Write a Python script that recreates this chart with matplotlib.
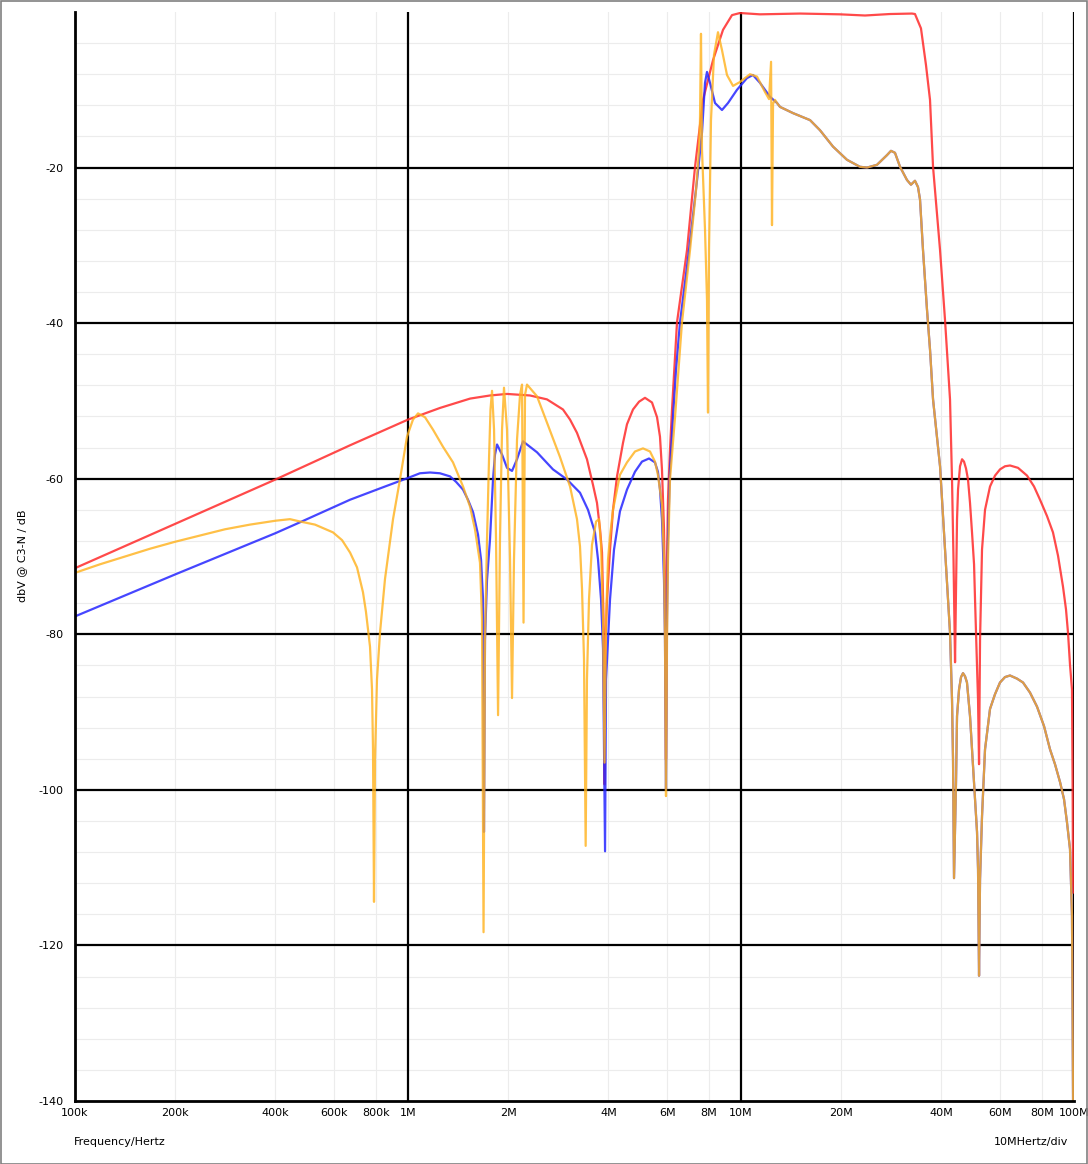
import numpy as np
import matplotlib
matplotlib.use("Agg")
import matplotlib.pyplot as plt
from matplotlib.patches import Rectangle

# ---------------- data (frequency in MHz, level in dB) ----------------
red_f = [0.1, 0.2, 0.4, 0.670, 1.0, 1.248, 1.536, 1.763, 1.983, 2.325, 2.614, 2.920, 3.066, 3.217,
         3.447, 3.594, 3.694, 3.773, 3.825, 3.865, 3.892, 3.919, 3.960, 4.043, 4.127, 4.243,
         4.422, 4.546, 4.739, 4.941, 5.148, 5.404, 5.596, 5.711, 5.790, 5.872, 5.912, 5.953, 5.995,
         6.036, 6.120, 6.206, 6.424, 6.885, 7.277, 7.689, 8.240, 8.829, 9.397, 9.93, 11.40,
         15.04, 19.83, 23.57, 28.02, 32.62, 33.30, 34.71, 35.93, 36.95, 37.73, 39.60, 40.99,
         42.43, 43.02, 43.47, 43.93, 44.23, 44.54, 44.85, 45.47, 46.11, 46.74, 47.40, 48.05,
         48.72, 49.40, 50.10, 50.44, 51.14, 51.50, 51.86, 52.22, 52.94, 54.05, 55.95, 57.92,
         59.95, 62.06, 64.25, 67.9, 72.27, 75.85, 79.06, 82.97, 86.47, 89.54, 92.69, 94.62,
         95.94, 97.27, 98.62, 99.1, 99.31]
red_db = [-71.5, -65.8, -60.1, -55.7, -52.4, -50.9, -49.7, -49.3, -49.1, -49.3, -49.8, -51.1, -52.4, -54.1,
          -57.5, -60.8, -63.1, -66.5, -69.5, -78.1, -99.3, -80.7, -75.5, -69.1, -64.0, -59.7,
          -55.4, -53.0, -51.1, -50.1, -49.6, -50.2, -52.1, -54.6, -58.8, -66.5, -74.2, -96.1, -70.4,
          -62.7, -56.3, -51.1, -39.9, -30.6, -19.9, -11.3, -6.2, -2.3, -0.4, -0.13, -0.3,
          -0.2, -0.3, -0.45, -0.26, -0.2, -0.26, -2.1, -6.8, -11.3, -19.9, -30.6, -39.6,
          -49.8, -60.1, -70.4, -83.6, -74.2, -65.2, -61.4, -58.4, -57.5, -57.8, -58.7, -60.1,
          -63.1, -66.9, -71.0, -75.5, -84.1, -88.4, -96.7, -80.7, -69.1, -64.0, -61.0, -59.6,
          -58.8, -58.4, -58.3, -58.6, -59.6, -61.0, -62.7, -64.8, -66.9, -69.9, -73.9, -76.8,
          -79.8, -83.9, -87.1, -101.2, -113.2]

blue_f = [0.1, 0.2, 0.4, 0.474, 0.670, 0.8412, 1.0, 1.086, 1.165, 1.247, 1.337, 1.394, 1.463,
          1.514, 1.568, 1.623, 1.657,
          1.680, 1.691, 1.703, 1.727, 1.763, 1.800, 1.825, 1.851, 1.916, 1.983, 2.053, 2.125,
          2.215, 2.440, 2.725, 3.002, 3.285, 3.472, 3.643, 3.721, 3.799, 3.852, 3.906, 3.933,
          3.987, 4.043, 4.156, 4.33, 4.546, 4.805, 5.043, 5.293, 5.516, 5.63, 5.711, 5.790,
          5.872, 5.912, 5.953, 5.995, 6.036, 6.120, 6.249, 6.380, 6.558, 6.981, 7.38, 7.636,
          7.797, 7.905, 8.07, 8.355, 8.768, 9.141, 9.727, 10.42, 10.86, 11.40, 12.22]
blue_db = [-77.7, -72.3, -67.0, -65.6, -62.7, -61.1, -59.9, -59.3, -59.2, -59.3, -59.7, -60.4, -61.4,
           -62.7, -64.3, -67.2, -70.4,
           -75.5, -105.4, -80.7, -73.0, -67.8, -60.1, -56.9, -55.6, -56.9, -58.6, -59.0, -57.5,
           -55.2, -56.6, -58.8, -60.1, -61.8, -64.0, -66.9, -70.4, -75.5, -81.9, -107.9, -85.8,
           -80.7, -75.5, -69.1, -64.2, -61.4, -59.1, -57.8, -57.4, -57.9, -59.1, -61.4, -65.2,
           -73.0, -80.7, -99.9, -78.1, -67.8, -58.8, -52.0, -46.0, -39.9, -30.6, -21.6, -15.5,
           -9.1, -7.7, -9.1, -11.7, -12.6, -11.7, -10.0, -8.5, -8.1, -9.1, -10.9]

orange_f = [0.1, 0.1189, 0.1413, 0.1680, 0.2, 0.2373, 0.2822, 0.3354, 0.4, 0.4422, 0.474,
            0.5256, 0.5954, 0.6339, 0.670, 0.7029, 0.7325, 0.7477, 0.769, 0.7797, 0.7851,
            0.7905, 0.7960, 0.8070,
            0.824, 0.8529, 0.9016, 0.946, 0.9931, 1.035, 1.072, 1.125, 1.189, 1.274, 1.365,
            1.463, 1.536, 1.589, 1.645, 1.668, 1.686, 1.703, 1.727, 1.751, 1.769, 1.788,
            1.813, 1.838, 1.864, 1.889, 1.916, 1.942, 1.983, 2.025, 2.053, 2.081, 2.125,
            2.170, 2.200, 2.223, 2.246, 2.277, 2.440, 2.614, 2.860, 3.066, 3.217, 3.285,
            3.331, 3.377, 3.416, 3.447, 3.496, 3.569, 3.672, 3.747, 3.799, 3.852, 3.892,
            3.933, 3.987, 4.043, 4.127, 4.243, 4.33, 4.546, 4.805, 5.078, 5.330, 5.516,
            5.63, 5.790, 5.872, 5.912, 5.953, 5.995, 6.036, 6.120, 6.339, 6.649, 7.03,
            7.328, 7.481, 7.531, 7.583, 7.636, 7.797, 7.905, 7.960, 8.015, 8.126, 8.297,
            8.529, 8.768, 9.077, 9.463, 9.93, 10.64, 11.17, 11.81, 12.14, 12.31, 12.39,
            12.48, 12.65]
orange_db = [-72.1, -71.0, -70.0, -69.0, -68.1, -67.3, -66.5, -65.9, -65.4, -65.2, -65.5,
             -65.9, -66.9, -67.9, -69.5, -71.4, -74.6, -77.1, -81.6, -87.1, -94.8,
             -114.4, -96.1, -85.8,
             -79.8, -72.9, -65.2, -60.1, -54.6, -52.4, -51.6, -52.1, -53.7, -55.9, -57.9,
             -61.0, -63.6, -66.5, -70.8, -78.1, -118.3, -80.7, -67.8, -57.5, -51.1, -48.7,
             -53.7, -67.8, -90.4, -67.8, -53.7, -48.3, -53.7, -70.4, -88.2, -70.4, -55.0,
             -49.2, -47.9, -78.5, -49.2, -47.9, -49.4, -52.8, -57.2, -61.0, -65.2, -68.7,
             -74.2, -83.2, -107.2, -85.8, -75.5, -68.5, -65.5, -65.2, -68.5, -78.1, -96.5,
             -78.1, -70.4, -67.4, -64.0, -61.4, -59.5, -57.9, -56.5, -56.1, -56.5, -57.8,
             -59.5, -63.3, -70.4, -80.7, -100.8, -80.7, -70.4, -60.1, -52.0, -39.9, -30.6,
             -22.9, -17.7, -13.9, -2.8, -17.7, -28.0, -37.0, -51.5, -30.6, -13.9, -5.5,
             -2.6, -4.9, -8.1, -9.5, -9.0, -8.0, -8.3, -10.3, -11.2, -6.4, -27.4,
             -11.8, -11.3]

# part shared by the blue and the orange trace above ~12.8 MHz
common_f = [12.83, 13.10, 14.33, 16.12, 17.27, 18.89, 20.81, 22.76, 23.90, 25.60, 27.44,
            28.21, 29.0, 30.03, 31.51, 32.39, 33.30, 34.0, 34.48, 35.20, 36.19, 36.95, 37.73,
            39.60, 40.99, 42.43, 43.02, 43.32, 43.62, 43.93, 44.23, 44.54, 45.16, 45.79,
            46.42, 47.07, 47.71, 48.72, 49.74, 50.44, 51.14, 51.50, 51.86, 52.22, 52.58,
            52.94, 54.05, 55.95, 57.92, 59.95, 62.06, 64.25, 67.43, 70.29, 73.78, 77.43,
            81.27, 84.73, 87.68, 90.80, 93.33, 95.28, 97.27, 98.62, 99.31, 99.5]
common_db = [-11.7, -12.2, -13.0, -13.9, -15.2, -17.3, -19.0, -19.9, -20.0, -19.65, -18.4,
             -17.85, -18.1, -19.9, -21.6, -22.2, -21.7, -22.5, -24.1, -30.6, -38.3, -43.4, -49.8,
             -58.4, -69.1, -79.8, -88.4, -96.1, -111.35, -105.1, -99.0, -90.5, -87.1, -85.5,
             -85.0, -85.4, -86.2, -90.5, -97.0, -101.2, -105.4, -110.2, -123.9, -111.5, -107.6,
             -103.4, -94.8, -89.6, -87.7, -86.2, -85.5, -85.3, -85.7, -86.2, -87.5, -89.3,
             -91.8, -94.8, -96.7, -99.0, -101.2, -104.2, -107.6, -116.2, -140.0, -145.0]

x_ticks = [0.1, 0.2, 0.4, 0.6, 0.8, 1, 2, 4, 6, 8, 10, 20, 40, 60, 80, 100]
x_labels = ["100k", "200k", "400k", "600k", "800k", "1M", "2M", "4M", "6M", "8M",
            "10M", "20M", "40M", "60M", "80M", "100M"]
y_ticks = [-140, -120, -100, -80, -60, -40, -20]

# ---------------- figure ----------------
W, H = 1088, 1164
fig = plt.figure(figsize=(W / 100, H / 100), dpi=100)
ax = fig.add_axes([75 / W, 1 - 1101 / H, (1074 - 75) / W, (1101 - 12) / H])

ax.set_xscale("log")
ax.set_xlim(0.1, 100)
ax.set_ylim(-140, 0)

# grid
for d in [0.1, 1, 10]:
    for m in [2, 4, 6, 8]:
        ax.axvline(d * m, color="#ececec", lw=0.8, zorder=0)
for v in np.arange(-136, 0, 4):
    if v % 20 != 0:
        ax.axhline(v, color="#ececec", lw=0.8, zorder=0)
for v in [1, 10, 100]:
    ax.axvline(v, color="black", lw=1.6, zorder=1)
for v in y_ticks[1:]:
    ax.axhline(v, color="black", lw=1.6, zorder=1)

lw = 1.6
ax.plot(red_f, red_db, color="#ff2a2a", alpha=0.85, lw=lw, zorder=3)
ax.plot(blue_f + common_f, blue_db + common_db, color="#2626ff", alpha=0.85, lw=lw, zorder=4)
ax.plot(orange_f + common_f, orange_db + common_db, color="#ffb21e", alpha=0.82, lw=lw, zorder=5)

for s in ["top", "right"]:
    ax.spines[s].set_visible(False)
for s in ["left", "bottom"]:
    ax.spines[s].set_linewidth(2.0)
    ax.spines[s].set_zorder(6)

ax.set_xticks(x_ticks)
ax.set_xticklabels(x_labels)
ax.xaxis.set_minor_locator(matplotlib.ticker.NullLocator())
ax.set_yticks(y_ticks)
ax.set_yticklabels([str(v) for v in y_ticks])
ax.tick_params(axis="both", length=0, labelsize=8, colors="black")
ax.tick_params(axis="x", pad=5)
ax.tick_params(axis="y", pad=8)

fig.text(22 / W, 1 - 556 / H, "dbV @ C3-N / dB", rotation=90, ha="center", va="center", fontsize=8)
fig.text(74 / W, 1 - 1142 / H, "Frequency/Hertz", ha="left", va="center", fontsize=8)
fig.text(1068 / W, 1 - 1142 / H, "10MHertz/div", ha="right", va="center", fontsize=8)

fig.patches.append(Rectangle((0.5 / W, 0.5 / H), 1 - 1.5 / W, 1 - 1.5 / H, transform=fig.transFigure,
                             fill=False, edgecolor="#808080", lw=1.2))

fig.savefig("out.png", dpi=100)
